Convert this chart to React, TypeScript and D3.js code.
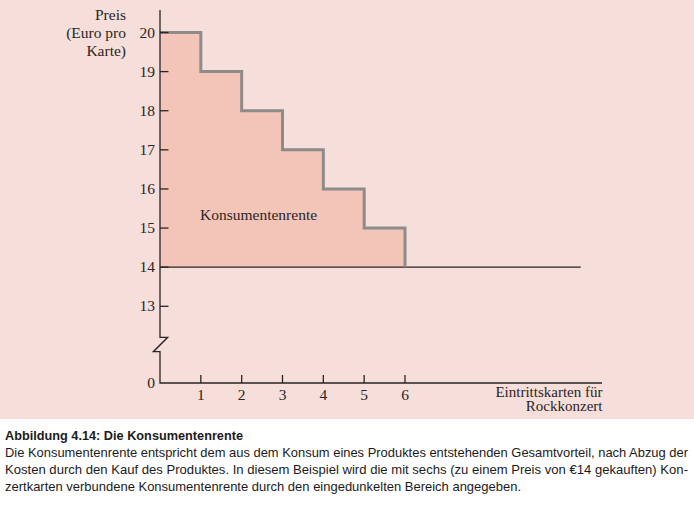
import React from "react";
import * as d3 from "d3";

const quantities = [0, 1, 2, 3, 4, 5, 6];
const prices = [20, 19, 18, 17, 16, 15, 14];
const marketPrice = 14;
const yTicks = [13, 14, 15, 16, 17, 18, 19, 20];
const xTicks = [1, 2, 3, 4, 5, 6];
const yTitle = ["Preis", "(Euro pro", "Karte)"];
const xTitle = ["Eintrittskarten für", "Rockkonzert"];
const areaLabel = "Konsumentenrente";
const captionTitle = "Abbildung 4.14: Die Konsumentenrente";
const captionLines = [
  "Die Konsumentenrente entspricht dem aus dem Konsum eines Produktes entstehenden Gesamtvorteil, nach Abzug der",
  "Kosten durch den Kauf des Produktes. In diesem Beispiel wird die mit sechs (zu einem Preis von €14 gekauften) Kon-",
  "zertkarten verbundene Konsumentenrente durch den eingedunkelten Bereich angegeben.",
];

const W = 694;
const H = 509;
const serif = "'Liberation Serif', 'Times New Roman', serif";
const sans = "'Liberation Sans', Arial, sans-serif";
const ink = "#2a2424";

export default function App() {
  const x = d3.scaleLinear().domain([0, 6]).range([160, 405]);
  const y = d3.scaleLinear().domain([0, 13, 20]).range([383, 306.3, 32.5]);
  const x0 = x(0);
  const y0 = y(0);
  const lineEnd = 580.7;
  const axisEnd = 602;

  const pts = quantities.map((q, i) => [q, prices[i]] as [number, number]);
  const area = d3
    .area<[number, number]>()
    .x((d) => x(d[0]))
    .y0(y(marketPrice))
    .y1((d) => y(d[1]))
    .curve(d3.curveStepAfter)(pts) as string;
  const step = d3
    .line<[number, number]>()
    .x((d) => x(d[0]))
    .y((d) => y(d[1]))
    .curve(d3.curveStepAfter)(pts) as string;

  const bTop = y(13) + 31;
  const bBot = y(13) + 45.4;
  const axisPath = `M${x0},10 L${x0},${bTop} L${x0 + 7.7},${bTop} L${x0 - 6.7},${bBot} L${x0},${bBot} L${x0},${y0} L${axisEnd},${y0}`;

  const captionWidths = [683, 683, 516];

  return (
    <svg
      width={W}
      height={H}
      style={{ position: "absolute", left: 0, top: 0, display: "block" }}
    >
      <rect x={0} y={0} width={W} height={H} fill="#ffffff" />
      <rect x={0} y={0} width={W} height={419} fill="#f6dfda" />
      <path d={area} fill="#f3c5b9" />
      <line x1={x0} x2={lineEnd} y1={y(marketPrice)} y2={y(marketPrice)} stroke={ink} strokeWidth={1.3} />
      <path d={step} fill="none" stroke="#8e8b8b" strokeWidth={3} strokeLinejoin="miter" />
      <path d={axisPath} fill="none" stroke={ink} strokeWidth={1.3} />
      {yTicks.map((t) => (
        <g key={"y" + t}>
          <line x1={x0} x2={x0 + 8.5} y1={y(t)} y2={y(t)} stroke={ink} strokeWidth={1.3} />
          <text x={155} y={y(t) + 5} textAnchor="end" fontFamily={serif} fontSize={15.5} fill={ink}>
            {t}
          </text>
        </g>
      ))}
      <text x={155} y={y0 + 5} textAnchor="end" fontFamily={serif} fontSize={15.5} fill={ink}>
        0
      </text>
      {xTicks.map((t) => (
        <g key={"x" + t}>
          <line x1={x(t)} x2={x(t)} y1={y0} y2={y0 - 8} stroke={ink} strokeWidth={1.3} />
          <text x={x(t)} y={400} textAnchor="middle" fontFamily={serif} fontSize={15.5} fill={ink}>
            {t}
          </text>
        </g>
      ))}
      {yTitle.map((s, i) => (
        <text key={s} x={126} y={19.5 + i * 18.3} textAnchor="end" fontFamily={serif} fontSize={15.5} fill={ink}>
          {s}
        </text>
      ))}
      {xTitle.map((s, i) => (
        <text key={s} x={602.5} y={396.5 + i * 14.5} textAnchor="end" fontFamily={serif} fontSize={15} fill={ink}>
          {s}
        </text>
      ))}
      <text x={200} y={220} fontFamily={serif} fontSize={15.5} fill={ink}>
        {areaLabel}
      </text>
      <text
        x={5}
        y={440}
        fontFamily={sans}
        fontWeight="bold"
        fontSize={13}
        fill="#1c1a1a"
        textLength={238}
        lengthAdjust="spacingAndGlyphs"
      >
        {captionTitle}
      </text>
      {captionLines.map((s, i) => (
        <text
          key={i}
          x={5}
          y={457 + i * 17}
          fontFamily={sans}
          fontSize={13}
          fill="#1c1a1a"
          textLength={captionWidths[i]}
          lengthAdjust="spacingAndGlyphs"
        >
          {s}
        </text>
      ))}
    </svg>
  );
}
